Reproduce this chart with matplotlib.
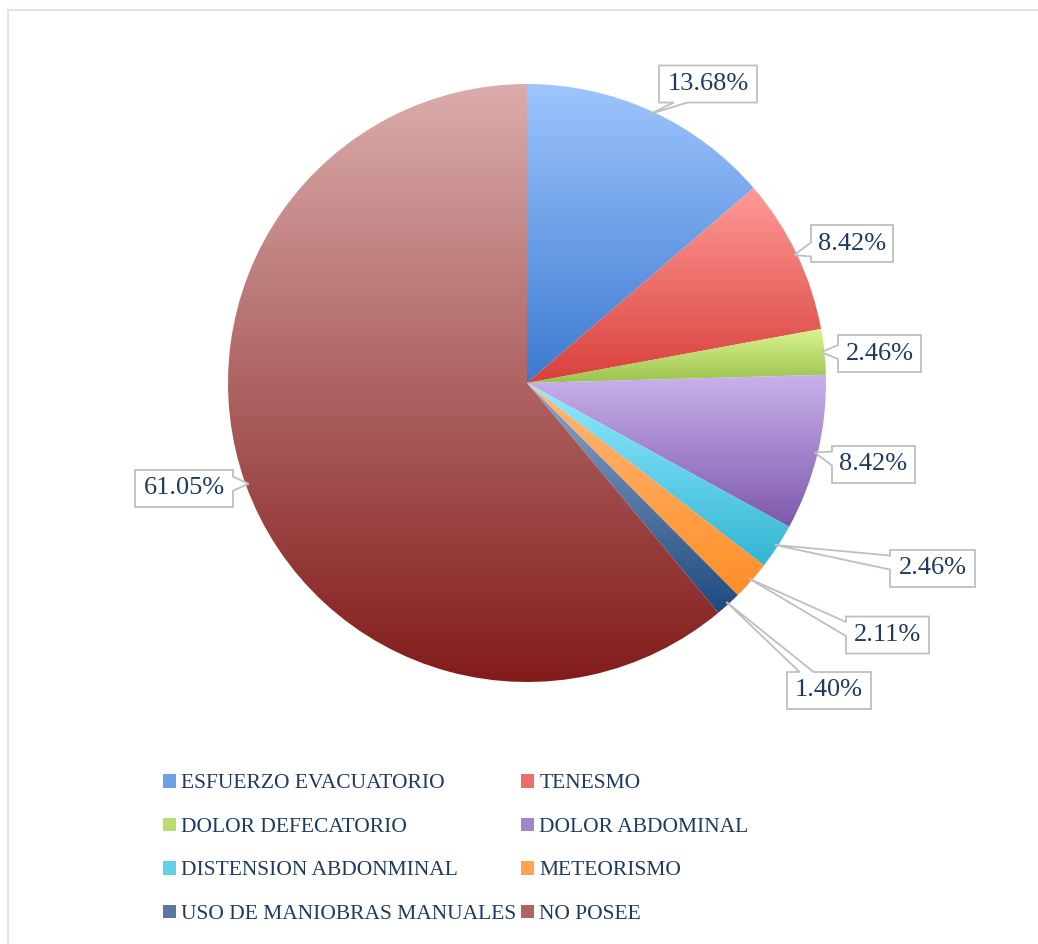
import numpy as np
import matplotlib
matplotlib.use('Agg')
import matplotlib.pyplot as plt
from matplotlib.patches import Polygon, Patch, Rectangle
from matplotlib.colors import to_rgb

plt.rcParams['font.family'] = ['Liberation Serif', 'DejaVu Serif']

# data: counts per symptom (n = 285)
categories = ['ESFUERZO EVACUATORIO', 'TENESMO', 'DOLOR DEFECATORIO', 'DOLOR ABDOMINAL',
              'DISTENSION ABDONMINAL', 'METEORISMO', 'USO DE MANIOBRAS MANUALES', 'NO POSEE']
counts = [39, 24, 7, 24, 7, 6, 4, 174]
pct_labels = ['13.68%', '8.42%', '2.46%', '8.42%', '2.46%', '2.11%', '1.40%', '61.05%']

# gradient colours (top, bottom) for each slice
top_colors = ['#9EC5FE', '#FF9B97', '#D9F58E', '#C9B1EC', '#93EBFF', '#FFB97B', '#8EA6C8', '#DAACAB']
bottom_colors = ['#3C7AD0', '#D8403C', '#9CC24E', '#7D58AB', '#33B5D4', '#FF8E26', '#1F4A80', '#821C1B']

text_color = '#1F3A60'
box_edge = '#BFBFBF'

W, H = 1038, 944
fig = plt.figure(figsize=(W / 100, H / 100), dpi=100)
ax = fig.add_axes([0, 0, 1, 1])

cx, cy, r = 527, H - 383, 299
wedges, _ = ax.pie(counts, startangle=90, counterclock=False, center=(cx, cy), radius=r,
                   wedgeprops=dict(facecolor='none', edgecolor='none'))

# per-slice vertical gradient, clipped to the wedge
for w, c_top, c_bot in zip(wedges, top_colors, bottom_colors):
    t = np.radians(np.linspace(w.theta1, w.theta2, 200))
    xs = np.concatenate([[cx], cx + r * np.cos(t)])
    ys = np.concatenate([[cy], cy + r * np.sin(t)])
    grad = np.linspace(0, 1, 256)[:, None, None]
    img = (1 - grad) * np.array(to_rgb(c_top)) + grad * np.array(to_rgb(c_bot))
    im = ax.imshow(img, extent=(xs.min(), xs.max(), ys.min(), ys.max()), origin='upper',
                   aspect='auto', interpolation='bilinear', zorder=1)
    im.set_clip_path(w)

# callout boxes: centre (x, y from top), width, side the pointer leaves from
boxes = [(708, 84, 98, 'bottom'), (852, 243.5, 82, 'left'), (879.5, 353.5, 83, 'left'),
         (873.5, 464.5, 83, 'left'), (932.5, 568.5, 85, 'left'), (887.5, 635, 83, 'left'),
         (829, 690.5, 84, 'top'), (184, 488.5, 98, 'right')]
bh = 37
hw = 7
for w, lab, (bx, by, bw, side) in zip(wedges, pct_labels, boxes):
    by = H - by
    mid = np.radians((w.theta1 + w.theta2) / 2)
    tip = (cx + 0.99 * r * np.cos(mid), cy + 0.99 * r * np.sin(mid))
    x0, x1 = bx - bw / 2, bx + bw / 2
    yb, yt = by - bh / 2, by + bh / 2
    if side in ('bottom', 'top'):
        p = np.clip(tip[0], x0 + 0.15 * bw + hw, x1 - 0.15 * bw - hw)
    else:
        p = np.clip(tip[1], yb + 0.15 * bh + hw, yt - 0.15 * bh - hw)
    pts = [(x0, yb)]
    if side == 'bottom':
        pts += [(p - hw, yb), tip, (p + hw, yb)]
    pts += [(x1, yb)]
    if side == 'right':
        pts += [(x1, p - hw), tip, (x1, p + hw)]
    pts += [(x1, yt)]
    if side == 'top':
        pts += [(p + hw, yt), tip, (p - hw, yt)]
    pts += [(x0, yt)]
    if side == 'left':
        pts += [(x0, p + hw), tip, (x0, p - hw)]
    ax.add_patch(Polygon(pts, closed=True, facecolor='white', edgecolor=box_edge, lw=1.3, zorder=3))
    ax.text(bx, by, lab, ha='center', va='center', fontsize=19, color=text_color, zorder=4)

# outer chart border
ax.add_patch(Rectangle((8, -20), W + 20, H - 10 + 20, facecolor='none', edgecolor='#D3E2F4',
                       lw=1.2, zorder=0))

handles = [Patch(facecolor=((np.array(to_rgb(a)) + np.array(to_rgb(b))) / 2), edgecolor='none')
           for a, b in zip(top_colors, bottom_colors)]
# legend fills column by column, reorder so it reads row by row
order = [0, 2, 4, 6, 1, 3, 5, 7]
ax.legend([handles[i] for i in order], [categories[i] for i in order], ncol=2,
          loc='upper left', bbox_to_anchor=(163, H - 774),
          bbox_transform=ax.transData, frameon=False, fontsize=15.5, labelcolor=text_color,
          handlelength=0.6, handleheight=0.6, handletextpad=0.25, columnspacing=0.2,
          labelspacing=1.12, borderpad=0, borderaxespad=0)

ax.set_xlim(0, W)
ax.set_ylim(0, H)
ax.set_aspect('auto')
ax.axis('off')

fig.savefig('out.png', dpi=100)
